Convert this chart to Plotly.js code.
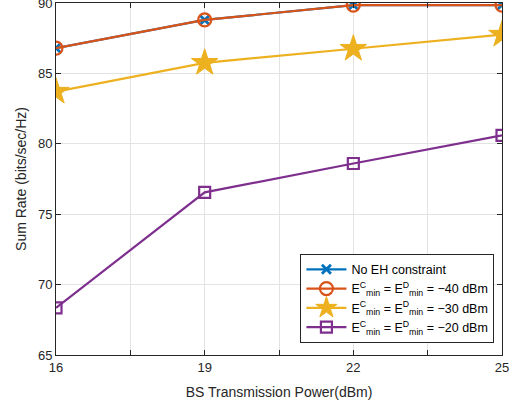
<!DOCTYPE html>
<html><head><meta charset="utf-8">
<script src="https://cdn.plot.ly/plotly-3.0.1.min.js"></script>
<style>body{margin:0;background:#fff}#c{width:515px;height:409px}</style>
</head><body><div id="c"></div>
<script>
const power = [16, 19, 22, 25];
const noEH = [86.8, 88.8, 89.85, 89.85];
const eh40 = [86.8, 88.8, 89.85, 89.85];
const eh30 = [83.7, 85.75, 86.75, 87.75];
const eh20 = [68.35, 76.55, 78.6, 80.6];
const names = [
  'No EH constraint',
  'E<sup>C</sup><sub>min</sub> = E<sup>D</sup><sub>min</sub> = \u221240 dBm',
  'E<sup>C</sup><sub>min</sub> = E<sup>D</sup><sub>min</sub> = \u221230 dBm',
  'E<sup>C</sup><sub>min</sub> = E<sup>D</sup><sub>min</sub> = \u221220 dBm'
];
const xTicks = [16, 19, 22, 25];
const xMinorTicks = [17.5, 20.5, 23.5];
const yTicks = [65, 70, 75, 80, 85, 90];

const traces = [
  {x: power, y: noEH, name: names[0], mode: 'lines+markers',
   line: {color: '#0072BD', width: 2.2},
   marker: {symbol: 'x-thin-open', size: 9, color: '#0072BD', line: {width: 2.8, color: '#0072BD'}}},
  {x: power, y: eh40, name: names[1], mode: 'lines+markers',
   line: {color: '#D95319', width: 2.2},
   marker: {symbol: 'circle-open', size: 13, color: '#D95319', line: {width: 2.2}}},
  {x: power, y: eh30, name: names[2], mode: 'lines+markers',
   line: {color: '#EDB120', width: 2.2},
   marker: {symbol: 'star', size: 20, color: '#EDB120', line: {width: 1, color: '#EDB120'}}},
  {x: power, y: eh20, name: names[3], mode: 'lines+markers',
   line: {color: '#7E2F8E', width: 2.2},
   marker: {symbol: 'square-open', size: 11, color: '#7E2F8E', line: {width: 2.2}}}
];

const layout = {
  width: 515, height: 409,
  margin: {l: 56, r: 13, t: 3, b: 54},
  paper_bgcolor: '#fff', plot_bgcolor: '#fff',
  font: {family: 'Liberation Sans, Arial, sans-serif', size: 13, color: '#262626'},
  showlegend: true,
  legend: {
    x: 0.983, y: 0.035, xanchor: 'right', yanchor: 'bottom',
    bgcolor: '#fff', bordercolor: '#262626', borderwidth: 1,
    font: {size: 12.5, color: '#000'},
    traceorder: 'normal', tracegroupgap: 0, itemwidth: 40
  },
  xaxis: {
    range: [16, 25], tickvals: xTicks, ticklabeloverflow: 'allow',
    showgrid: true, gridcolor: '#e3e3e3', gridwidth: 1,
    minor: {tickvals: xMinorTicks, showgrid: true, gridcolor: '#e3e3e3', gridwidth: 1,
            ticks: 'inside', ticklen: 5, tickcolor: '#262626'},
    showline: true, linecolor: '#262626', linewidth: 1, mirror: 'ticks',
    ticks: 'inside', ticklen: 5, tickcolor: '#262626', zeroline: false,
    title: {text: 'BS Transmission Power(dBm)', font: {size: 14}, standoff: 13}
  },
  yaxis: {
    range: [65, 90], tickvals: yTicks, ticklabeloverflow: 'allow',
    showgrid: true, gridcolor: '#e3e3e3', gridwidth: 1,
    showline: true, linecolor: '#262626', linewidth: 1, mirror: 'ticks',
    ticks: 'inside', ticklen: 5, tickcolor: '#262626', zeroline: false,
    title: {text: 'Sum Rate (bits/sec/Hz)', font: {size: 14}, standoff: 8}
  }
};
Plotly.newPlot('c', traces, layout, {displayModeBar: false, staticPlot: true});
</script></body></html>
